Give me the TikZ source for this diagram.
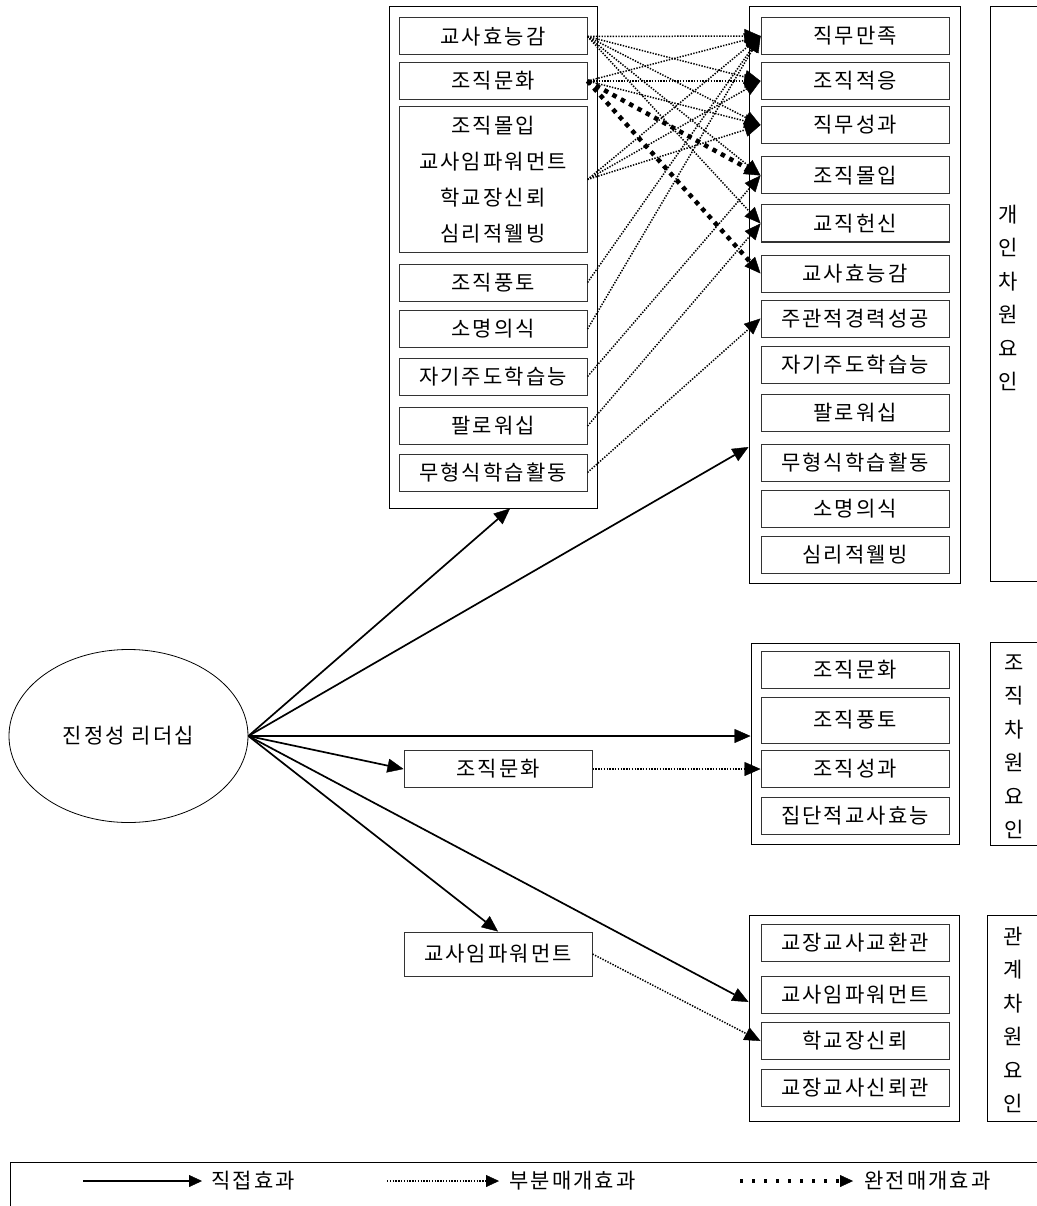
\documentclass[tikz,border=0pt]{standalone}
\usepackage{fontspec}
\setmainfont{Noto Sans CJK KR}[LetterSpace=10]
\usetikzlibrary{shapes.geometric,arrows.meta,calc}
\begin{document}
\begin{tikzpicture}[x=1pt,y=-1pt,
  txt/.style={font=\fontsize{21}{25}\selectfont},
  ibox/.style={draw=black!80, line width=1pt, minimum width=188pt, minimum height=37pt, inner sep=0pt, txt},
  obox/.style={draw=black, line width=1pt, inner sep=0pt},
  lab/.style={align=center, inner sep=0pt, font=\fontsize{21}{33.5}\selectfont},
  direct/.style={line width=1.7pt, -{Triangle[length=16pt,width=14pt,line width=0.4pt]}},
  partial/.style={line width=1.5pt, dash pattern=on 1.4pt off 1.4pt, -{Triangle[length=16pt,width=14pt,line width=0.4pt]}},
  full/.style={line width=4.5pt, dash pattern=on 4.5pt off 5pt, -{Triangle[length=16pt,width=14pt,line width=0.4pt]}},
  lgdirect/.style={line width=1.7pt, -{Triangle[length=13pt,width=12pt,line width=0.4pt]}},
  lgpartial/.style={line width=1.5pt, dash pattern=on 1.4pt off 1.4pt, -{Triangle[length=13pt,width=12pt,line width=0.4pt]}},
  lgfull/.style={line width=4.5pt, dash pattern=on 3pt off 9pt, -{Triangle[length=13pt,width=12pt,line width=0.4pt]}}
]
\useasboundingbox (0,0) rectangle (1036,1206);

% ---------- ellipse ----------
\node[ellipse, draw, line width=0.8pt, minimum width=239pt, minimum height=173pt, inner sep=0pt, txt] (al) at (128.5,736) {진정성 리더십};

% ---------- top mediator box ----------
\node[obox, minimum width=208pt, minimum height=501pt] (topmed) at (493,257.5) {};
\node[ibox] (m1) at (493,36.5) {교사효능감};
\node[ibox] (m2) at (493,81) {조직문화};
\node[ibox, minimum height=145pt, align=center, font=\fontsize{21}{36}\selectfont] (m3) at (493,179.5) {조직몰입\\교사임파워먼트\\학교장신뢰\\심리적웰빙};
\node[ibox] (m4) at (493,282.5) {조직풍토};
\node[ibox] (m5) at (493,329) {소명의식};
\node[ibox] (m6) at (493,376.5) {자기주도학습능};
\node[ibox] (m7) at (493,426) {팔로워십};
\node[ibox] (m8) at (493,472.5) {무형식학습활동};

% ---------- individual outcomes ----------
\node[obox, minimum width=211pt, minimum height=576pt] (indiv) at (854.5,295) {};
\node[ibox] (t1) at (855,36) {직무만족};
\node[ibox] (t2) at (855,81) {조직적응};
\node[ibox] (t3) at (855,125) {직무성과};
\node[ibox] (t4) at (855,175.5) {조직몰입};
\node[ibox] (t5) at (855,223.5) {교직헌신};
\node[ibox] (t6) at (855,273.5) {교사효능감};
\node[ibox] (t7) at (855,318.5) {주관적경력성공};
\node[ibox] (t8) at (855,365) {자기주도학습능};
\node[ibox] (t9) at (855,413) {팔로워십};
\node[ibox] (t10) at (855,462.5) {무형식학습활동};
\node[ibox] (t11) at (855,508.5) {소명의식};
\node[ibox] (t12) at (855,554.5) {심리적웰빙};
\node[obox, minimum width=55pt, minimum height=574pt] (indlab) at (1017.5,294) {};
\node[lab] (indtxt) at (1008,298) {개\\인\\차\\원\\요\\인};

% ---------- organizational outcomes ----------
\node[obox, minimum width=208pt, minimum height=201pt] (org) at (855,743.5) {};
\node[ibox] (o1) at (855,670) {조직문화};
\node[ibox, minimum height=46pt] (o2) at (855,720) {조직풍토};
\node[ibox] (o3) at (855,769) {조직성과};
\node[ibox] (o4) at (855,816) {집단적교사효능};
\node[obox, minimum width=55pt, minimum height=203pt] (orglab) at (1017.5,743.5) {};
\node[lab] (orgtxt) at (1014,747) {조\\직\\차\\원\\요\\인};

% ---------- relational outcomes ----------
\node[obox, minimum width=210pt, minimum height=206pt] (rel) at (854,1018) {};
\node[ibox] (r1) at (855,942.5) {교장교사교환관};
\node[ibox] (r2) at (855,994.5) {교사임파워먼트};
\node[ibox] (r3) at (855,1041) {학교장신뢰};
\node[ibox] (r4) at (855,1087.5) {교장교사신뢰관};
\node[obox, minimum width=58pt, minimum height=206pt] (rellab) at (1016,1018) {};
\node[lab] (reltxt) at (1013,1020) {관\\계\\차\\원\\요\\인};

% ---------- middle mediators ----------
\node[ibox] (mc) at (498,769) {조직문화};
\node[ibox, minimum height=44pt] (me) at (498,954) {교사임파워먼트};

% ---------- direct effects ----------
\draw[direct] (al.east) -- ($(topmed.south)+(17,0)$);
\draw[direct] (al.east) -- ($(indiv.west)+(0,152)$);
\draw[direct] (al.east) -- ($(org.west)+(0,-7.5)$);
\draw[direct] (al.east) -- (mc.west);
\draw[direct] (al.east) -- (me.north);
\draw[direct] (al.east) -- ($(rel.west)+(0,-16)$);

% ---------- partial mediation ----------
\foreach \t in {t1,t2,t3,t4,t5} \draw[partial] (m1.east) -- (\t.west);
\foreach \t in {t1,t2,t3} \draw[partial] (m2.east) -- (\t.west);
\foreach \t in {t1,t2,t3} \draw[partial] (m3.east) -- (\t.west);
\draw[partial] (m4.east) -- (t1.west);
\draw[partial] (m5.east) -- (t1.west);
\draw[partial] (m6.east) -- (t4.west);
\draw[partial] (m7.east) -- (t5.west);
\draw[partial] (m8.east) -- (t7.west);
\draw[partial] (mc.east) -- (o3.west);
\draw[partial] (me.east) -- (r3.west);

% ---------- full mediation ----------
\draw[full] (m2.east) -- (t4.west);
\draw[full] (m2.east) -- (t6.west);

% ---------- legend ----------
\node[obox, minimum width=1036pt, minimum height=60pt] (legend) at (528,1192) {};
\coordinate (la1) at (83,1181);
\coordinate (lb1) at (202,1181);
\coordinate (la2) at (387,1181);
\coordinate (lb2) at (499,1181);
\coordinate (la3) at (740,1181);
\coordinate (lb3) at (853,1181);
\draw[lgdirect] (la1) -- (lb1);
\draw[lgpartial] (la2) -- (lb2);
\draw[lgfull] (la3) -- (lb3);
\node[txt, anchor=west, inner sep=0pt] (lt1) at (211,1181) {직접효과};
\node[txt, anchor=west, inner sep=0pt] (lt2) at (509,1181) {부분매개효과};
\node[txt, anchor=west, inner sep=0pt] (lt3) at (864,1181) {완전매개효과};
\end{tikzpicture}
\end{document}
